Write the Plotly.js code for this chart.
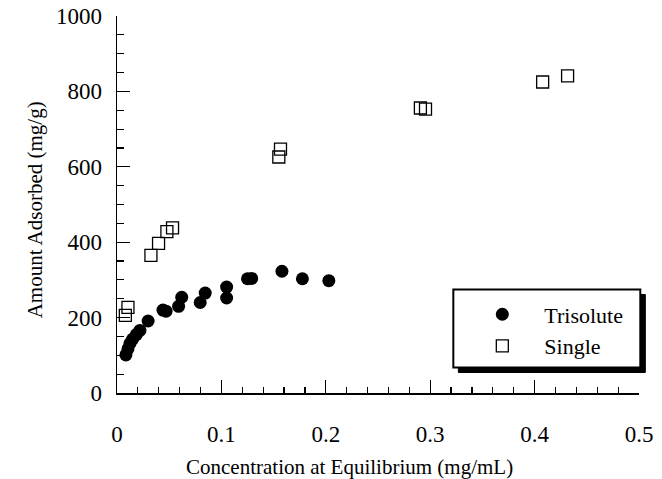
<!DOCTYPE html>
<html>
<head>
<meta charset="utf-8">
<script src="https://cdn.plot.ly/plotly-3.0.1.min.js"></script>
<style>html,body{margin:0;padding:0;background:#fff;}#chart{width:662px;height:479px;}</style>
</head>
<body>
<div id="chart"></div>
<script>
// Trisolute (filled circles)
var trisoluteX = [0.0085, 0.0105, 0.0125, 0.015, 0.0185, 0.022, 0.0298, 0.044, 0.047, 0.059, 0.062, 0.0797, 0.0845, 0.105, 0.105, 0.125, 0.129, 0.158, 0.1776, 0.2029];
var trisoluteY = [101, 117, 132, 143, 155, 166, 191, 220, 217, 230, 254, 240, 265, 252, 281, 303, 304, 323, 303, 298];
// Single (open squares)
var singleX = [0.008, 0.0105, 0.0325, 0.0398, 0.0478, 0.0532, 0.155, 0.1566, 0.2906, 0.2955, 0.4077, 0.4316];
var singleY = [206, 227, 365, 397, 428, 438, 626, 647, 756, 753, 825, 841];

var xTitle = 'Concentration at Equilibrium (mg/mL)';
var yTitle = 'Amount Adsorbed (mg/g)';
var names = ['Trisolute', 'Single'];

var serif = 'Liberation Serif, Times New Roman, serif';

var traces = [
  {x: trisoluteX, y: trisoluteY, name: names[0], type: 'scatter', mode: 'markers',
   marker: {symbol: 'circle', size: 13, color: '#000'}},
  {x: singleX, y: singleY, name: names[1], type: 'scatter', mode: 'markers',
   marker: {symbol: 'square-open', size: 12, color: '#000', line: {width: 1.3, color: '#000'}}}
];

var layout = {
  width: 662, height: 479,
  margin: {l: 117, r: 23, t: 16, b: 86},
  paper_bgcolor: '#fff', plot_bgcolor: '#fff',
  font: {family: serif, color: '#000', size: 22},
  showlegend: true,
  legend: {x: 0.6577, y: 0.264, xanchor: 'left', yanchor: 'top', bgcolor: 'rgba(0,0,0,0)',
           borderwidth: 0, itemwidth: 74, font: {family: serif, size: 22, color: '#000'}},
  xaxis: {range: [0, 0.5], dtick: 0.1, tick0: 0, showgrid: false, zeroline: false,
          showline: true, linecolor: '#000', linewidth: 1.5,
          ticks: 'inside', ticklen: 13, tickwidth: 1.2, tickcolor: '#000',
          ticklabelstandoff: 20,
          minor: {dtick: 0.02, ticks: 'inside', ticklen: 6, tickwidth: 1.2, tickcolor: '#000', showgrid: false},
          tickfont: {family: serif, size: 23}},
  yaxis: {range: [0, 1000], dtick: 200, tick0: 0, showgrid: false, zeroline: false,
          showline: true, linecolor: '#000', linewidth: 1.5,
          ticks: 'inside', ticklen: 13, tickwidth: 1.2, tickcolor: '#000',
          ticklabelstandoff: 9,
          minor: {dtick: 50, ticks: 'inside', ticklen: 7, tickwidth: 1.2, tickcolor: '#000', showgrid: false},
          tickfont: {family: serif, size: 23}},
  annotations: [
    {text: xTitle, xref: 'paper', yref: 'paper', x: 0.445, y: -0.195, xanchor: 'center', yanchor: 'middle',
     showarrow: false, font: {family: serif, size: 21, color: '#000'}},
    {text: yTitle, xref: 'paper', yref: 'paper', x: -0.1565, y: 0.4854, xanchor: 'center', yanchor: 'middle',
     textangle: -90, showarrow: false, font: {family: serif, size: 21, color: '#000'}}
  ],
  shapes: [
    {type: 'rect', xref: 'paper', yref: 'paper', x0: 0.654, x1: 1.0121, y0: 0.0544, y1: 0.2613,
     fillcolor: '#000', line: {width: 1, color: '#000'}, layer: 'above'},
    {type: 'rect', xref: 'paper', yref: 'paper', x0: 0.6443, x1: 1.0025, y0: 0.0676, y1: 0.2745,
     fillcolor: '#fff', line: {width: 2, color: '#000'}, layer: 'above'}
  ]
};

Plotly.newPlot('chart', traces, layout, {displayModeBar: false, staticPlot: true});
</script>
</body>
</html>
